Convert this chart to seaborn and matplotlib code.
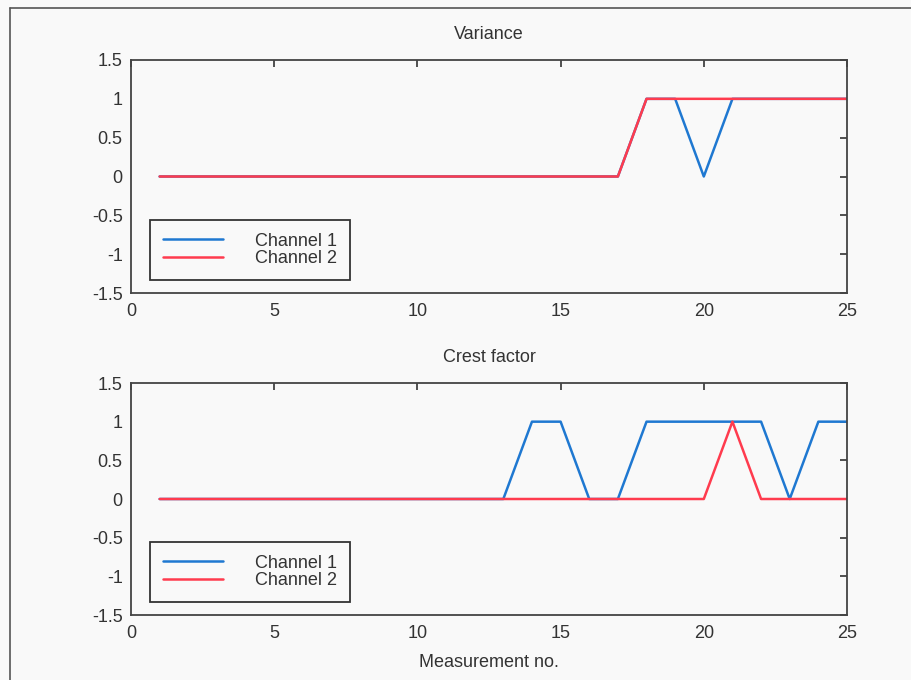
import matplotlib
matplotlib.use("Agg")
import matplotlib.pyplot as plt
from matplotlib.lines import Line2D
import seaborn as sns
import pandas as pd
import numpy as np

# Measurement index and detection flags per channel
measurement = list(range(1, 26))
variance_ch1 = [0]*17 + [1, 1, 0, 1, 1, 1, 1, 1]
variance_ch2 = [0]*17 + [1, 1, 1, 1, 1, 1, 1, 1]
crest_ch1 = [0]*13 + [1, 1, 0, 0, 1, 1, 1, 1, 1, 0, 1, 1]
crest_ch2 = [0]*20 + [1, 0, 0, 0, 0]

titles = ["Variance", "Crest factor"]
channel_names = ["Channel 1", "Channel 2"]
x_ticks = [0, 5, 10, 15, 20, 25]
y_ticks = [-1.5, -1, -0.5, 0, 0.5, 1, 1.5]
y_tick_labels = ["-1.5", "-1", "-0.5", "0", "0.5", "1", "1.5"]

sns.set_style("white")
plt.rcParams["font.family"] = ["Liberation Sans", "DejaVu Sans"]
fs = 13
plt.rcParams["font.size"] = fs
text_color = "#333333"
bg = "#f9f9f9"
colors = {"Channel 1": "#1f78d1", "Channel 2": "#ff3b4e"}

fig = plt.figure(figsize=(9.11, 6.80), dpi=100, facecolor=bg)

W, H = 911, 680
def box(l, t, r, b):
    return [l / W, 1 - b / H, (r - l) / W, (b - t) / H]

ax_top = fig.add_axes(box(131, 60, 847, 293))
ax_bot = fig.add_axes(box(131, 383, 847, 615))

series = [(variance_ch1, variance_ch2), (crest_ch1, crest_ch2)]
for ax, title, (c1, c2) in zip([ax_top, ax_bot], titles, series):
    df = pd.DataFrame({
        "x": measurement * 2,
        "y": c1 + c2,
        "ch": ["Channel 1"] * len(c1) + ["Channel 2"] * len(c2),
    })
    sns.lineplot(data=df, x="x", y="y", hue="ch", palette=colors,
                 linewidth=1.8, ax=ax, legend=False)
    ax.set_facecolor(bg)
    ax.set_xlim(0, 25)
    ax.set_ylim(-1.5, 1.5)
    ax.set_xticks(x_ticks)
    ax.set_xticklabels([str(t) for t in x_ticks])
    ax.set_yticks(y_ticks)
    ax.set_yticklabels(y_tick_labels)
    ax.tick_params(direction="in", length=5, width=1.2, top=True, right=True,
                   colors="#333333", labelcolor=text_color, labelsize=fs)
    ax.tick_params(axis="x", pad=7)
    ax.tick_params(axis="y", pad=6)
    for s in ax.spines.values():
        s.set_visible(True)
        s.set_color("#444444")
        s.set_linewidth(1.3)
    ax.set_xlabel("")
    ax.set_ylabel("")
    ax.set_title(title, color=text_color, fontsize=fs, pad=15)
    handles = [Line2D([], [], color=colors[n], linewidth=1.8) for n in channel_names]
    leg = ax.legend(handles, channel_names, loc="lower left",
                    bbox_to_anchor=(0.0265, 0.056), borderaxespad=0,
                    frameon=True, fancybox=False, edgecolor="#333333",
                    facecolor=bg, framealpha=1, handlelength=3.3,
                    handletextpad=1.8, labelspacing=0.02, borderpad=0.72,
                    fontsize=fs)
    leg.get_frame().set_linewidth(1.3)
    for t in leg.get_texts():
        t.set_color(text_color)

ax_bot.set_xlabel("Measurement no.", color=text_color, fontsize=fs, labelpad=9)

# outer frame of the figure
fig.add_artist(Line2D([10 / W, 10 / W], [0, 1 - 8 / H], transform=fig.transFigure,
                      color="#555555", linewidth=1.2))
fig.add_artist(Line2D([10 / W, 1], [1 - 8 / H, 1 - 8 / H], transform=fig.transFigure,
                      color="#555555", linewidth=1.2))

fig.savefig("out.png", dpi=100, facecolor=bg)
